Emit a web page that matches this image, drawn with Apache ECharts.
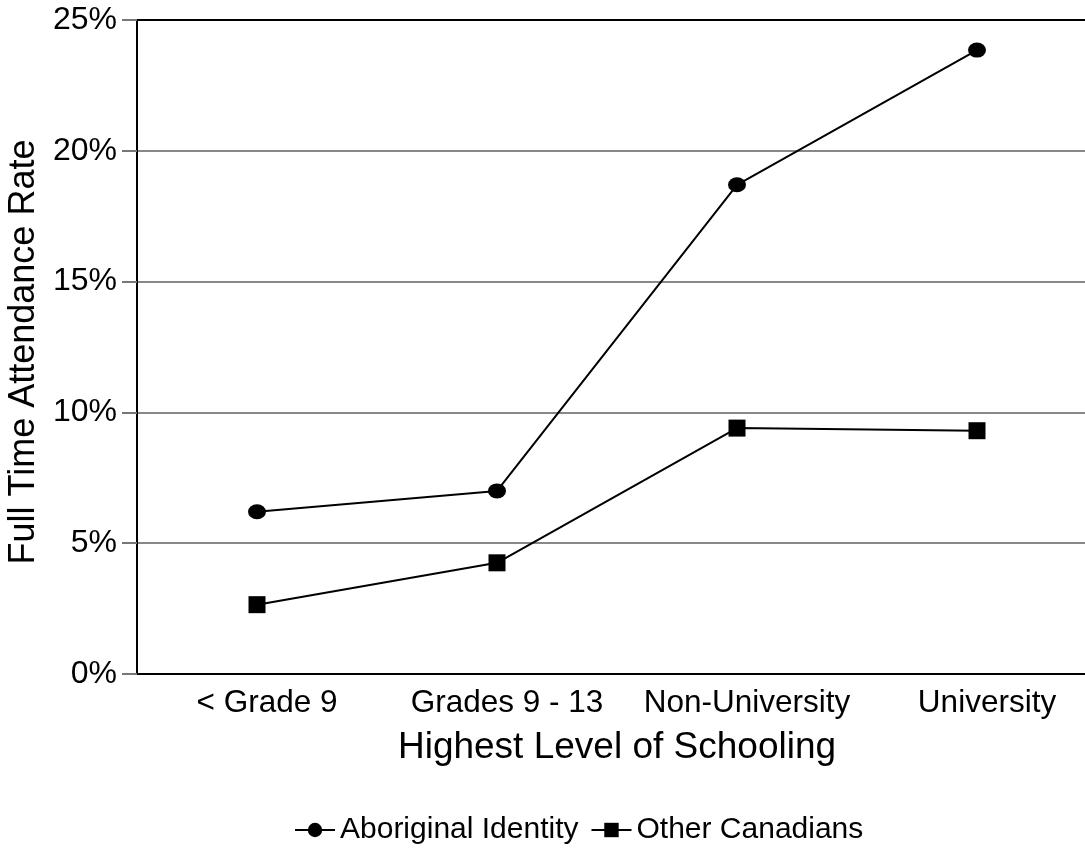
<!DOCTYPE html>
<html><head><meta charset="utf-8">
<script src="https://cdn.jsdelivr.net/npm/echarts@6/dist/echarts.min.js"></script>
<style>html,body{margin:0;padding:0;background:#fff}#c{width:1085px;height:856px}</style>
</head><body><div id="c"></div>
<script>
const categories = ['< Grade 9', 'Grades 9 - 13', 'Non-University', 'University'];
const aboriginal = [6.2, 7.0, 18.7, 23.85];
const otherCanadians = [2.65, 4.25, 9.4, 9.3];
const yTicks = [0, 5, 10, 15, 20, 25];

const F = '"Liberation Sans", Arial, sans-serif';
const chart = echarts.init(document.getElementById('c'), null, {renderer: 'canvas'});
chart.setOption({
  backgroundColor: '#fff',
  animation: false,
  grid: {left: 137, width: 960, top: 20, bottom: 182, containLabel: false, outerBoundsMode: 'none'},
  legend: {
    bottom: 6, left: 289, itemWidth: 40, itemHeight: 18, itemGap: 12,
    textStyle: {fontFamily: F, fontSize: 30, color: '#000'},
    data: ['Aboriginal Identity', 'Other Canadians']
  },
  xAxis: [{
    type: 'category', data: categories, boundaryGap: true,
    name: 'Highest Level of Schooling', nameLocation: 'middle', nameGap: 55,
    nameTextStyle: {fontFamily: F, fontSize: 37, color: '#000'},
    axisLine: {lineStyle: {color: '#000', width: 2}},
    axisTick: {alignWithLabel: true, length: 10, lineStyle: {color: '#777', width: 2}},
    axisLabel: {fontFamily: F, fontSize: 31.5, color: '#000', margin: 13, interval: 0, padding: [0, 0, 0, 20]}
  }, {
    type: 'category', data: categories, position: 'top',
    axisLine: {lineStyle: {color: '#000', width: 2}},
    axisTick: {show: false}, axisLabel: {show: false}
  }],
  yAxis: {
    type: 'value', min: 0, max: 25, interval: 5,
    name: 'Full Time Attendance Rate', nameLocation: 'middle', nameGap: 86,
    nameTextStyle: {fontFamily: F, fontSize: 36, color: '#000', padding: [0, 10, 0, 0]},
    axisLine: {show: true, lineStyle: {color: '#000', width: 2}},
    axisTick: {show: true, length: 15, lineStyle: {color: '#777', width: 2}},
    axisLabel: {fontFamily: F, fontSize: 32, color: '#000', margin: 20,
      formatter: v => yTicks.includes(v) ? v + '%' : ''},
    splitLine: {show: true, lineStyle: {color: '#888', width: 2}}
  },
  series: [{
    name: 'Aboriginal Identity', type: 'line', data: aboriginal,
    symbol: 'circle', symbolSize: [18, 15],
    lineStyle: {color: '#000', width: 2}, itemStyle: {color: '#000'}
  }, {
    name: 'Other Canadians', type: 'line', data: otherCanadians,
    symbol: 'rect', symbolSize: 17,
    lineStyle: {color: '#000', width: 2}, itemStyle: {color: '#000'}
  }]
});
</script></body></html>
